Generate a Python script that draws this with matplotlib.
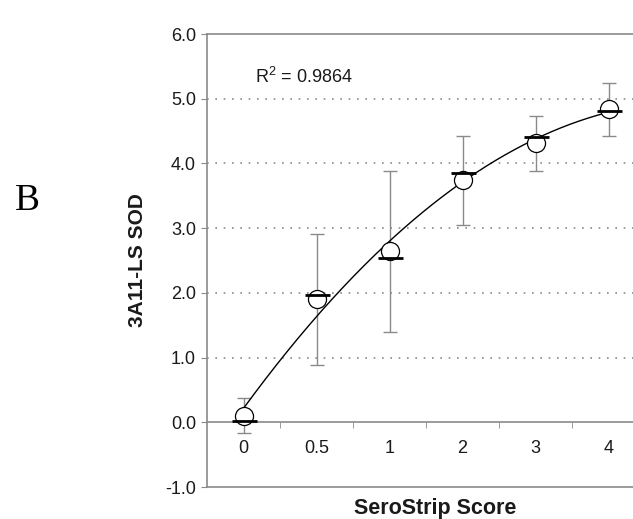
import numpy as np
import matplotlib
matplotlib.use('Agg')
import matplotlib.pyplot as plt
from matplotlib.ticker import FixedLocator, FormatStrFormatter

plt.rcParams['font.family'] = ['Liberation Sans', 'DejaVu Sans']
plt.rcParams['mathtext.fontset'] = 'custom'
plt.rcParams['mathtext.rm'] = 'Liberation Sans'

# データ
categories = ['0', '0.5', '1', '2', '3', '4']
means = [0.10, 1.90, 2.64, 3.74, 4.31, 4.84]
errors = [0.27, 1.01, 1.24, 0.69, 0.42, 0.41]
medians = [0.02, 1.97, 2.54, 3.85, 4.41, 4.81]
r2_text = r'R$\mathregular{^2}$ = 0.9864'

GRAY = '#8a8a8a'
TXT = '#1a1a1a'

fig = plt.figure(figsize=(6.33, 5.19), dpi=100)
ax = fig.add_axes([207 / 633, 32 / 519, 438 / 633, 453 / 519])

x = np.arange(len(categories))

# 2次の近似曲線
coef = np.polyfit(x, means, 2)
xs = np.linspace(x[0], x[-1], 200)
ax.plot(xs, np.polyval(coef, xs), color='black', linewidth=1.0, zorder=3)

ax.errorbar(x, means, yerr=errors, fmt='none', ecolor=GRAY, elinewidth=1.0,
            capsize=5, capthick=1.0, zorder=2)
ax.plot(x, means, linestyle='none', marker='o', markersize=13,
        markerfacecolor='white', markeredgecolor='black', markeredgewidth=0.9, zorder=4)
ax.plot(x, medians, linestyle='none', marker='_', markersize=18,
        markeredgecolor='black', markeredgewidth=2.0, zorder=5)

ax.set_xlim(-0.5, 5.5)
ax.set_ylim(-1.0, 6.0)

# 軸
ax.spines['bottom'].set_position(('data', 0))
for s in ['bottom', 'left', 'top', 'right']:
    ax.spines[s].set_color(GRAY)
    ax.spines[s].set_linewidth(1.2)
ax.axhline(-1.0, color=GRAY, linewidth=1.2, clip_on=False, zorder=1)

ax.set_xticks(x)
ax.set_xticklabels(categories)
ax.xaxis.set_minor_locator(FixedLocator(np.arange(0.5, 5.0, 1.0)))
ax.tick_params(axis='x', which='major', length=0, pad=13, labelsize=13, labelcolor=TXT)
ax.tick_params(axis='x', which='minor', length=4, direction='out', color=GRAY)

ax.set_yticks(np.arange(-1, 7, 1))
ax.yaxis.set_major_formatter(FormatStrFormatter('%.1f'))
ax.tick_params(axis='y', length=4, direction='out', color=GRAY, pad=4, labelsize=13,
               labelcolor=TXT)

for yv in range(1, 6):
    ax.axhline(yv, color=GRAY, linewidth=1.2, linestyle=(0, (1, 4)), zorder=0)

ax.text(0.11, 0.905, r2_text, transform=ax.transAxes, fontsize=13, va='center', ha='left',
        color=TXT)

ax.text(-0.158, 0.50, '3A11-LS SOD', transform=ax.transAxes, rotation=90,
        fontsize=15, fontweight='bold', ha='center', va='center', color=TXT)
ax.text(0.52, -0.048, 'SeroStrip Score', transform=ax.transAxes,
        fontsize=15.5, fontweight='bold', ha='center', va='center', color=TXT)

fig.text(27 / 633, 1 - 201 / 519, 'B', fontsize=27, family='Liberation Serif',
         ha='center', va='center')

plt.savefig('out.png', dpi=100)
